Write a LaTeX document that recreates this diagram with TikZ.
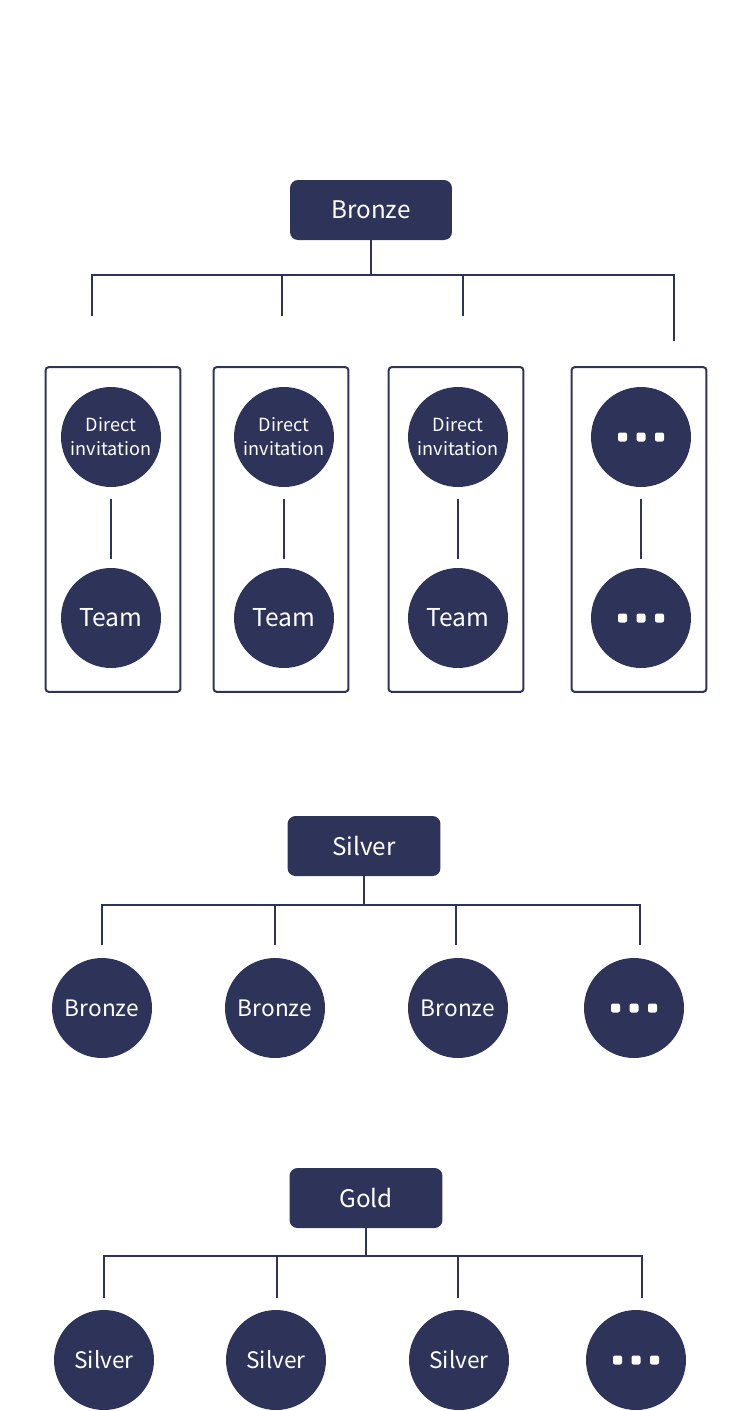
\documentclass[tikz,border=0pt]{standalone}
\usepackage{fontspec}
\setmainfont{Noto Sans CJK KR}
\usetikzlibrary{fit}
\definecolor{N}{RGB}{46, 52, 89}
\tikzset{
	rank/.style={fill=N, text=white, rounded corners=0.16cm, minimum width=3.06cm, minimum height=1.2cm, inner sep=0pt, font=\fontsize{13.8}{17}\selectfont},
	member/.style={circle, fill=N, text=white, minimum size=2cm, inner sep=0pt, font=\fontsize{12.9}{16}\selectfont},
	invite/.style={align=center, font=\fontsize{10.3}{13.6}\selectfont},
	big/.style={font=\fontsize{14}{17}\selectfont},
	link/.style={draw=N, line width=0.04cm},
	frame/.style={draw=N, line width=0.04cm, rounded corners=0.06cm, inner xsep=0.34cm, inner ysep=0.43cm},
}
\newcommand{\moredots}[1]{%
	\foreach \d in {-0.37,0,0.37}
		\fill[white, rounded corners=0.04cm] ([xshift=\d cm]#1.center) +(-0.09cm,-0.09cm) rectangle +(0.09cm,0.09cm);
}

\begin{document}
\begin{tikzpicture}[x=0.02cm, y=-0.02cm]
	\useasboundingbox (0,0) rectangle (750,1411);
	% Bronze
	\node[rank, minimum width=3.24cm] (bronze) at (371,210) {Bronze};
	\coordinate (barA) at (371,275);
	\coordinate (dropA1) at (92,316);
	\coordinate (dropA2) at (282,316);
	\coordinate (dropA3) at (463,316);
	\coordinate (dropA4) at (674,341);
	\draw[link] (bronze) -- (barA);
	\foreach \i in {1,...,4}
		\draw[link] (dropA\i) |- (barA);
	\foreach \x [count=\i] in {111,284,458} {
		\node[member, invite] (inv\i) at (\x,437) {Direct\\invitation};
		\node[member, big] (team\i) at (\x,618) {Team};
	}
	\node[member] (inv4) at (641,437) {};
	\node[member] (team4) at (641,618) {};
	\moredots{inv4}
	\moredots{team4}
	\foreach \i/\s in {1/2,2/-3,3/-2,4/-2} {
		\draw[link, shorten <=0.24cm, shorten >=0.18cm] (inv\i) -- (team\i);
		\node[frame, fit=(inv\i)(team\i), xshift={\s*0.02cm}, yshift=-0.04cm] (box\i) {};
	}
	% Silver
	\node[rank] (silver) at (364,846) {Silver};
	\coordinate (barB) at (364,905);
	\foreach \x [count=\i] in {102,275,456,640}
		\coordinate (dropB\i) at (\x,945);
	\draw[link] (silver) -- (barB);
	\foreach \i in {1,...,4}
		\draw[link] (dropB\i) |- (barB);
	\foreach \x [count=\i] in {102,275,458}
		\node[member] (bz\i) at (\x,1008) {Bronze};
	\node[member] (bz4) at (634,1008) {};
	\moredots{bz4}
	% Gold
	\node[rank] (gold) at (366,1198) {Gold};
	\coordinate (barC) at (366,1256);
	\foreach \x [count=\i] in {104,277,458,642}
		\coordinate (dropC\i) at (\x,1298);
	\draw[link] (gold) -- (barC);
	\foreach \i in {1,...,4}
		\draw[link] (dropC\i) |- (barC);
	\foreach \x [count=\i] in {104,276,459}
		\node[member] (sv\i) at (\x,1360) {Silver};
	\node[member] (sv4) at (636,1360) {};
	\moredots{sv4}
\end{tikzpicture}
\end{document}
